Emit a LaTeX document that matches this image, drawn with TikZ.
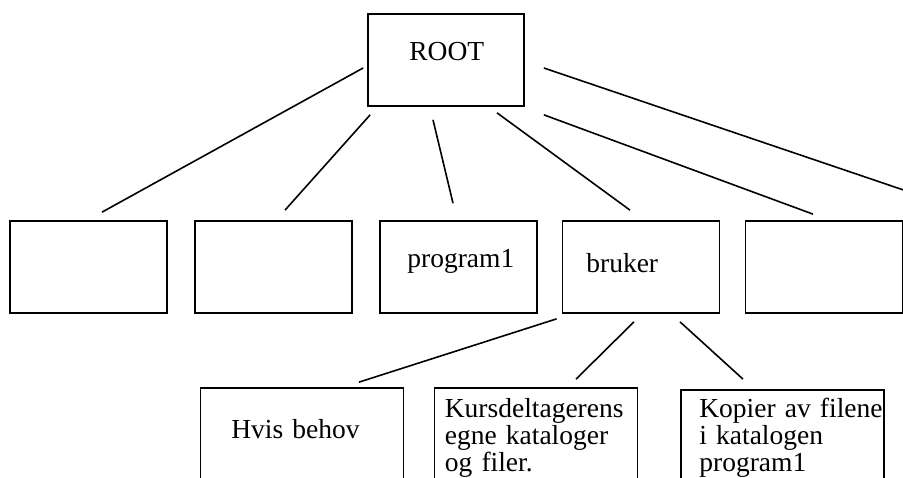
\documentclass[tikz,border=0pt]{standalone}
\usepackage{fontspec}
\setmainfont{Liberation Serif}

\tikzset{
  box/.style={draw, line width=1.7pt, inner sep=0pt},
  midbox/.style={box, minimum width=157pt, minimum height=92pt},
  leafbox/.style={box, minimum width=203pt, minimum height=112pt},
  boxtext/.style={anchor=base west, inner sep=0pt, align=left, text width=190pt,
    font={\fontsize{27.5}{27}\selectfont}},
  branch/.style={line width=1.6pt},
}

\begin{document}
\begin{tikzpicture}[x=1pt,y=1pt]
%
	\useasboundingbox (0,0) rectangle (903,478);
	\clip (0,0) rectangle (903,478);
%
	\node[box, minimum width=156pt, minimum height=92pt] (root) at (446,418) {};
	\node[midbox] (b1) at (88.5,211) {};
	\node[midbox] (b2) at (273.5,211) {};
	\node[midbox] (b3) at (458.5,211) {};
	\node[midbox] (bruker) at (641,211) {};
	\node[midbox] (b5) at (824,211) {};
	\coordinate (b6) at (930,279);
	\node[leafbox] (behov) at (302,34) {};
	\node[leafbox] (egne) at (536,34) {};
	\node[leafbox, minimum height=110pt] (kopier) at (782.5,33) {};
%
	\node[boxtext] (t-root) at ([shift={(42,-47)}]root.north west) {ROOT};
	\node[boxtext] (t-prog) at ([shift={(28,-47)}]b3.north west) {program1};
	\node[boxtext] (t-bruker) at ([shift={(24.5,-52)}]bruker.north west) {bruker};
	\node[boxtext] (t-behov) at ([shift={(31.5,-51)}]behov.north west) {Hvis behov};
	\node[boxtext] (t-egne) at ([shift={(11,-30)}]egne.north west)
		{Kursdeltagerens\\egne kataloger\\og filer.};
	\node[boxtext] (t-kopier) at ([shift={(19,-28)}]kopier.north west)
		{Kopier av filene\\i katalogen\\program1};
%
	\draw[branch] ([shift={(-4,-8)}]root.west) -- ([shift={(13.5,8)}]b1.north);
	\draw[branch] ([shift={(3,-8)}]root.south west) -- ([shift={(11.5,10)}]b2.north);
	\draw[branch] ([shift={(-13,-13)}]root.south) -- ([shift={(-5.5,17)}]b3.north);
	\draw[branch] ([shift={(51,-6)}]root.south) -- ([shift={(-11,10)}]bruker.north);
	\draw[branch] ([shift={(19,-8)}]root.south east) -- ([shift={(-11,6)}]b5.north);
	\draw[branch] ([shift={(19,-8)}]root.east) -- (b6);
%
	\draw[branch] ([shift={(-5,-5)}]bruker.south west) -- ([shift={(57,5)}]behov.north);
	\draw[branch] ([shift={(-7,-8)}]bruker.south) -- ([shift={(40,8)}]egne.north);
	\draw[branch] ([shift={(39,-8)}]bruker.south) -- ([shift={(-39.5,10)}]kopier.north);
%
\end{tikzpicture}
\end{document}
